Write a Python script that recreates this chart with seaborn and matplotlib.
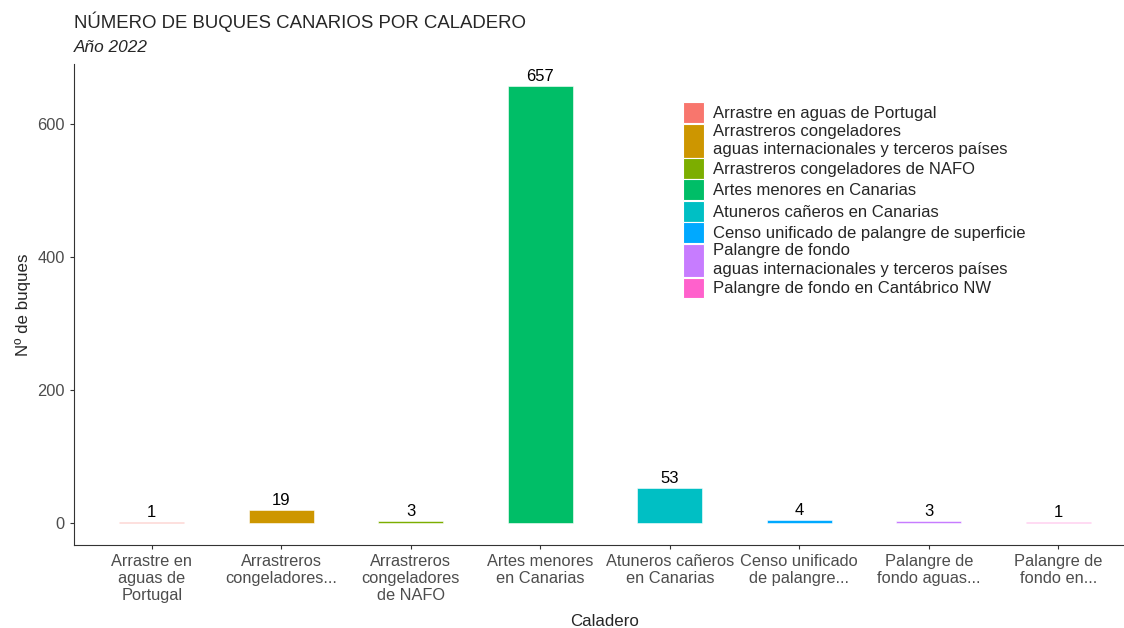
import numpy as np
import pandas as pd
import matplotlib
matplotlib.use("Agg")
import matplotlib.pyplot as plt
import seaborn as sns

# data
caladeros = [
    "Arrastre en aguas de Portugal",
    "Arrastreros congeladores aguas internacionales y terceros países",
    "Arrastreros congeladores de NAFO",
    "Artes menores en Canarias",
    "Atuneros cañeros en Canarias",
    "Censo unificado de palangre de superficie",
    "Palangre de fondo aguas internacionales y terceros países",
    "Palangre de fondo en Cantábrico NW",
]
buques = [1, 19, 3, 657, 53, 4, 3, 1]
tick_labels = [
    "Arrastre en\naguas de\nPortugal",
    "Arrastreros\ncongeladores...",
    "Arrastreros\ncongeladores\nde NAFO",
    "Artes menores\nen Canarias",
    "Atuneros cañeros\nen Canarias",
    "Censo unificado\nde palangre...",
    "Palangre de\nfondo aguas...",
    "Palangre de\nfondo en...",
]
legend_labels = [
    "Arrastre en aguas de Portugal",
    "Arrastreros congeladores\naguas internacionales y terceros países",
    "Arrastreros congeladores de NAFO",
    "Artes menores en Canarias",
    "Atuneros cañeros en Canarias",
    "Censo unificado de palangre de superficie",
    "Palangre de fondo\naguas internacionales y terceros países",
    "Palangre de fondo en Cantábrico NW",
]
colores = ["#F8766D", "#CD9600", "#7CAE00", "#00BE67",
           "#00BFC4", "#00A9FF", "#C77CFF", "#FF61CC"]

df = pd.DataFrame({"caladero": caladeros, "buques": buques})

sns.set_style("ticks")
plt.rcParams["font.family"] = ["Liberation Sans", "DejaVu Sans"]

fig = plt.figure(figsize=(11.24, 6.28), dpi=100)
# the panel runs past the right edge of the picture (the reference is cropped there)
ax = fig.add_axes([74 / 1124, 83 / 628, 1062 / 1124, 481 / 628])

sns.barplot(data=df, x="caladero", y="buques", hue="caladero",
            palette=colores, width=0.5, dodge=False, legend=True, ax=ax,
            saturation=1, edgecolor="white", linewidth=0.4)

for i, v in enumerate(buques):
    ax.text(i, v + 3, str(v), ha="center", va="bottom", fontsize=12, color="black")

ymax = max(buques)
ax.set_ylim(-0.05 * ymax, ymax * 1.05)
ax.set_xlim(-0.6, len(buques) - 0.4)
ax.set_yticks([0, 200, 400, 600])
ax.set_xticks(range(len(tick_labels)))
ax.set_xticklabels(tick_labels, fontsize=11.8, color="#4D4D4D", linespacing=1.15)
ax.tick_params(axis="y", labelsize=11.8, labelcolor="#4D4D4D", color="#333333", length=3)
ax.tick_params(axis="x", color="#333333", length=3)
ax.set_xlabel("Caladero", fontsize=12.2)
ax.xaxis.set_label_coords(0.5, -0.143)
ax.set_ylabel("Nº de buques", fontsize=12.2, labelpad=5)
for s in ["left", "bottom"]:
    ax.spines[s].set_color("#333333")
sns.despine(ax=ax)

handles, _ = ax.get_legend_handles_labels()
fs = 12
leg = ax.legend(handles, legend_labels, loc="upper left", bbox_to_anchor=(0.573, 0.92),
                frameon=False, fontsize=fs, handlelength=1.3, handleheight=1.55,
                labelspacing=0.03, handletextpad=0.55, borderaxespad=0, borderpad=0)
for t in leg.get_texts():
    t.set_linespacing(1.3)
# taller keys for the two-line entries, as in the reference
for h, lab in zip(leg.legend_handles, legend_labels):
    h.set_edgecolor("white")
    h.set_linewidth(0.8)
    if "\n" in lab:
        extra = 0.75 * fs
        h.set_y(h.get_y() - extra / 2)
        h.set_height(h.get_height() + extra)

fig.text(74 / 1124, 1 - 22 / 628, "NÚMERO DE BUQUES CANARIOS POR CALADERO",
         fontsize=13.4, va="center", ha="left")
fig.text(74 / 1124, 1 - 48 / 628, "Año 2022", fontsize=12.4, style="italic",
         va="center", ha="left")

fig.savefig("out.png", dpi=100)
